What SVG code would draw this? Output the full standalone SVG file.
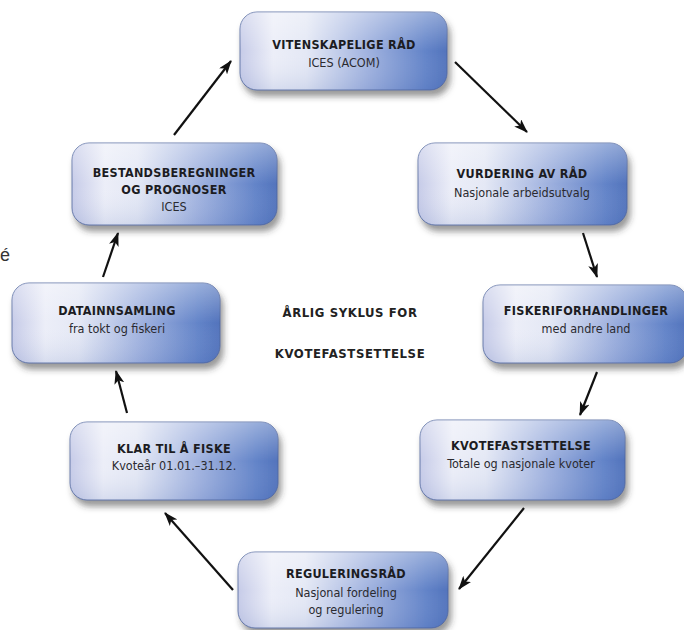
<svg xmlns="http://www.w3.org/2000/svg" width="684" height="630" viewBox="0 0 684 630">
<style>
.box{fill:url(#g);stroke:#4d639a;stroke-width:0.8;filter:url(#sh)}
.hl{fill:url(#v)}
.t{font-family:"DejaVu Sans Condensed","Liberation Sans",sans-serif;font-weight:bold;font-size:12.5px;fill:#1c1c22;text-anchor:middle;letter-spacing:0.3px}
.s{font-family:"DejaVu Sans Condensed","Liberation Sans",sans-serif;font-size:12.5px;fill:#2a2a30;text-anchor:middle}
.c{font-family:"DejaVu Sans Condensed","Liberation Sans",sans-serif;font-weight:bold;font-size:13px;fill:#222;text-anchor:middle;letter-spacing:0.6px}
.a{stroke:#111;stroke-width:2.2;fill:none;marker-end:url(#ah)}
</style>
<defs>
<linearGradient id="g" x1="0" y1="0" x2="1" y2="0">
<stop offset="0" stop-color="#c6cbe8"/>
<stop offset="0.16" stop-color="#eceef8"/>
<stop offset="0.32" stop-color="#e4e8f5"/>
<stop offset="0.62" stop-color="#a0b2df"/>
<stop offset="0.9" stop-color="#6283c8"/>
<stop offset="1" stop-color="#5273bc"/>
</linearGradient>
<linearGradient id="v" x1="0" y1="0" x2="0" y2="1">
<stop offset="0" stop-color="#ffffff" stop-opacity="0.35"/>
<stop offset="0.5" stop-color="#ffffff" stop-opacity="0"/>
<stop offset="1" stop-color="#3a5aa8" stop-opacity="0.12"/>
</linearGradient>
<filter id="sh" x="-10%" y="-10%" width="125%" height="140%">
<feDropShadow dx="3" dy="6" stdDeviation="3" flood-color="#333" flood-opacity="0.5"/>
</filter>
<marker id="ah" viewBox="0 0 14 10" refX="13" refY="5" markerWidth="14" markerHeight="10" markerUnits="userSpaceOnUse" orient="auto">
<path d="M0,0 L14,5 L0,10 L3.5,5 z" fill="#111"/>
</marker>
</defs>
<rect width="684" height="630" fill="#ffffff"/>
<text x="0" y="261" style="font-family:'Liberation Sans',sans-serif;font-size:18px;fill:#333">é</text>
<g id="connectors">
<line class="a" x1="174" y1="135" x2="231" y2="61"/>
<line class="a" x1="455" y1="62" x2="527" y2="132"/>
<line class="a" x1="583" y1="233" x2="597" y2="277"/>
<line class="a" x1="597" y1="372" x2="580" y2="415"/>
<line class="a" x1="524" y1="508" x2="459" y2="589"/>
<line class="a" x1="233" y1="590" x2="165" y2="513"/>
<line class="a" x1="127" y1="413" x2="116" y2="371"/>
<line class="a" x1="103" y1="277" x2="118" y2="233"/>
</g>
<g id="vitenskapelige">
<rect class="box" x="240" y="12" width="207" height="78" rx="17"/>
<rect class="hl" x="240" y="12" width="207" height="78" rx="17"/>
<text class="t" x="344" y="49">VITENSKAPELIGE RÅD</text>
<text class="s" x="344" y="67">ICES (ACOM)</text>
</g>
<g id="vurdering">
<rect class="box" x="418" y="143" width="209" height="82" rx="17"/>
<rect class="hl" x="418" y="143" width="209" height="82" rx="17"/>
<text class="t" x="522" y="178">VURDERING AV RÅD</text>
<text class="s" x="522" y="197">Nasjonale arbeidsutvalg</text>
</g>
<g id="fiskeriforhandlinger">
<rect class="box" x="483" y="285" width="204" height="78" rx="17"/>
<rect class="hl" x="483" y="285" width="204" height="78" rx="17"/>
<text class="t" x="586" y="315">FISKERIFORHANDLINGER</text>
<text class="s" x="586" y="333">med andre land</text>
</g>
<g id="kvotefastsettelse">
<rect class="box" x="420" y="420" width="205" height="80" rx="17"/>
<rect class="hl" x="420" y="420" width="205" height="80" rx="17"/>
<text class="t" x="521" y="450">KVOTEFASTSETTELSE</text>
<text class="s" x="521" y="468">Totale og nasjonale kvoter</text>
</g>
<g id="reguleringsrad">
<rect class="box" x="238" y="552" width="210" height="76" rx="17"/>
<rect class="hl" x="238" y="552" width="210" height="76" rx="17"/>
<text class="t" x="346" y="578">REGULERINGSRÅD</text>
<text class="s" x="346" y="597">Nasjonal fordeling</text>
<text class="s" x="346" y="614">og regulering</text>
</g>
<g id="klar">
<rect class="box" x="70" y="422" width="208" height="78" rx="17"/>
<rect class="hl" x="70" y="422" width="208" height="78" rx="17"/>
<text class="t" x="174" y="453">KLAR TIL Å FISKE</text>
<text class="s" x="174" y="470">Kvoteår 01.01.–31.12.</text>
</g>
<g id="datainnsamling">
<rect class="box" x="12" y="283" width="208" height="80" rx="17"/>
<rect class="hl" x="12" y="283" width="208" height="80" rx="17"/>
<text class="t" x="117" y="315">DATAINNSAMLING</text>
<text class="s" x="117" y="333">fra tokt og fiskeri</text>
</g>
<g id="bestandsberegninger">
<rect class="box" x="72" y="143" width="205" height="82" rx="17"/>
<rect class="hl" x="72" y="143" width="205" height="82" rx="17"/>
<text class="t" x="174" y="177">BESTANDSBEREGNINGER</text>
<text class="t" x="174" y="194">OG PROGNOSER</text>
<text class="s" x="174" y="211">ICES</text>
</g>
<g id="center">
<text class="c" x="350" y="317">ÅRLIG SYKLUS FOR</text>
<text class="c" x="350" y="358">KVOTEFASTSETTELSE</text>
</g>
</svg>
